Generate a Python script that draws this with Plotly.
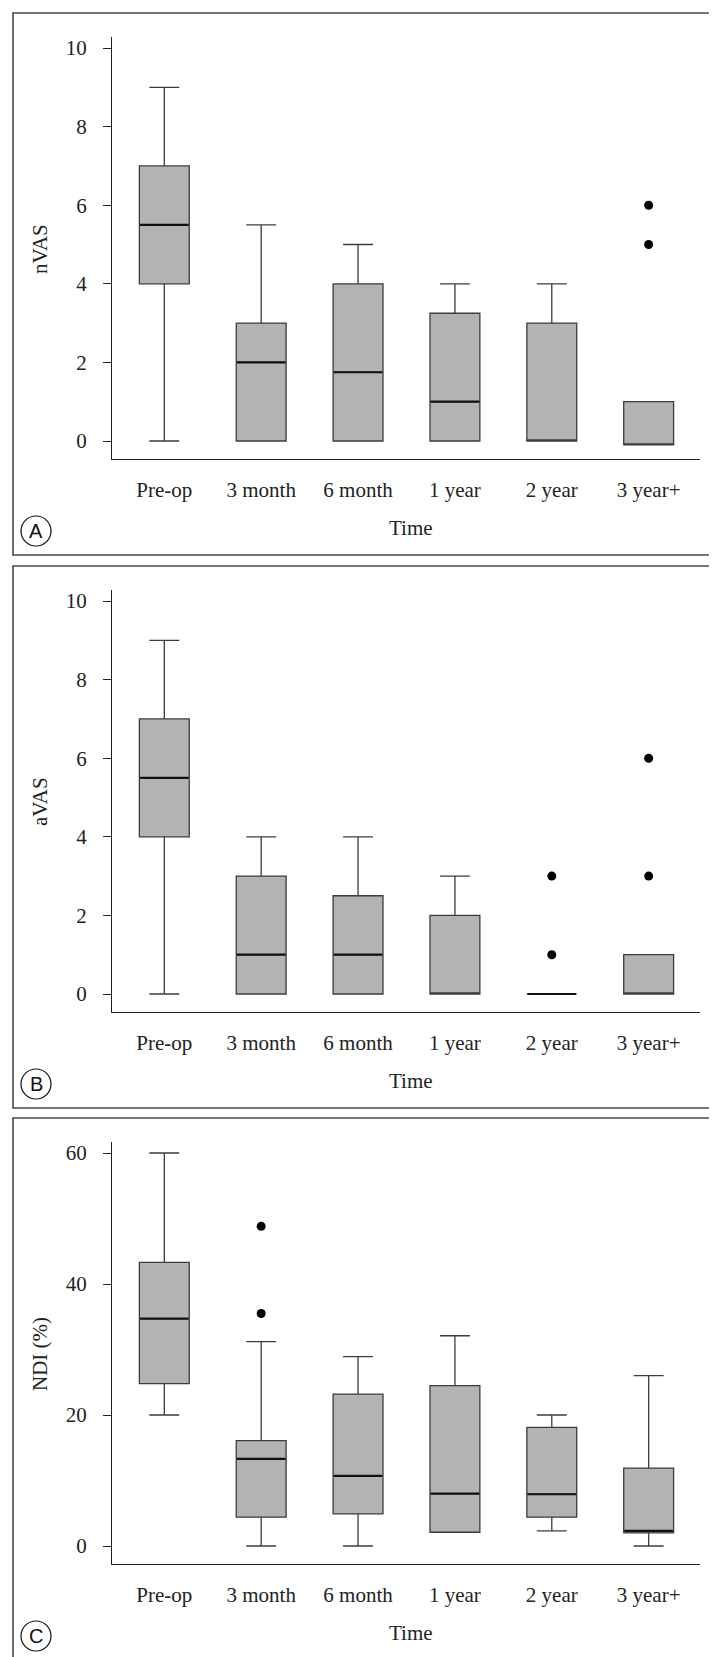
import plotly.graph_objects as go

categories = ["Pre-op", "3 month", "6 month", "1 year", "2 year", "3 year+"]

# Panel A: nVAS
nvas_q1 = [4, 0, 0, 0, 0, -0.1]
nvas_med = [5.5, 2, 1.75, 1, 0, -0.1]
nvas_q3 = [7, 3, 4, 3.25, 3, 1]
nvas_lo = [0, 0, 0, 0, 0, -0.1]
nvas_hi = [9, 5.5, 5, 4, 4, 1]
nvas_out_x = ["3 year+", "3 year+"]
nvas_out_y = [6, 5]

# Panel B: aVAS
avas_q1 = [4, 0, 0, 0, 0, 0]
avas_med = [5.5, 1, 1, 0, 0, 0]
avas_q3 = [7, 3, 2.5, 2, 0, 1]
avas_lo = [0, 0, 0, 0, 0, 0]
avas_hi = [9, 4, 4, 3, 0, 1]
avas_out_x = ["2 year", "2 year", "3 year+", "3 year+"]
avas_out_y = [3, 1, 6, 3]

# Panel C: NDI (%)
ndi_q1 = [24.8, 4.4, 4.9, 2.1, 4.4, 2.0]
ndi_med = [34.7, 13.3, 10.7, 8.0, 7.9, 2.3]
ndi_q3 = [43.3, 16.1, 23.2, 24.5, 18.1, 11.9]
ndi_lo = [20, 0, 0, 2.1, 2.3, 0]
ndi_hi = [60, 31.2, 28.9, 32.1, 20, 26]
ndi_out_x = ["3 month", "3 month"]
ndi_out_y = [48.8, 35.5]

W, H = 717, 1657
SERIF = "Liberation Serif, Times New Roman, serif"
SANS = "Liberation Sans, Arial, sans-serif"

panels = [
    dict(top=5, q1=nvas_q1, med=nvas_med, q3=nvas_q3, lo=nvas_lo, hi=nvas_hi,
         ox=nvas_out_x, oy=nvas_out_y, title="nVAS", letter="A",
         tickvals=[0, 2, 4, 6, 8, 10], topval=10),
    dict(top=558, q1=avas_q1, med=avas_med, q3=avas_q3, lo=avas_lo, hi=avas_hi,
         ox=avas_out_x, oy=avas_out_y, title="aVAS", letter="B",
         tickvals=[0, 2, 4, 6, 8, 10], topval=10),
    dict(top=1110, q1=ndi_q1, med=ndi_med, q3=ndi_q3, lo=ndi_lo, hi=ndi_hi,
         ox=ndi_out_x, oy=ndi_out_y, title="NDI (%)", letter="C",
         tickvals=[0, 20, 40, 60], topval=60),
]

fig = go.Figure()
shapes = []
annotations = []

def py(p):
    return 1 - p / H

x0px, x1px = 104, 692
for i, p in enumerate(panels):
    n = "" if i == 0 else str(i + 1)
    xa, ya = "x" + n, "y" + n
    t = p["top"]
    ppu = 393.0 / p["topval"]
    dom_top_px = t + 24
    dom_bot_px = t + 446
    y_bot = -(dom_bot_px - (t + 428)) / ppu
    y_top = p["topval"] + ((t + 35) - dom_top_px) / ppu

    fig.add_trace(go.Box(
        x=categories, q1=p["q1"], median=p["med"], q3=p["q3"],
        lowerfence=p["lo"], upperfence=p["hi"],
        fillcolor="#b3b3b3", line=dict(color="#3c3c3c", width=1.3),
        width=0.515, whiskerwidth=0.6, boxpoints=False,
        xaxis=xa, yaxis=ya, showlegend=False, hoverinfo="skip"))
    # thicker median line overlay (only where the median is distinct from Q1,
    # or the box is collapsed to a single value)
    mx, mm = [], []
    for c, a, m, b in zip(categories, p["q1"], p["med"], p["q3"]):
        if m != a or a == b:
            mx.append(c)
            mm.append(m)
    fig.add_trace(go.Box(
        x=mx, q1=mm, median=mm, q3=mm, lowerfence=mm, upperfence=mm,
        fillcolor="rgba(0,0,0,0)", line=dict(color="#111111", width=2.2),
        width=0.5, whiskerwidth=0, boxpoints=False,
        xaxis=xa, yaxis=ya, showlegend=False, hoverinfo="skip"))
    fig.add_trace(go.Scatter(
        x=p["ox"], y=p["oy"], mode="markers",
        marker=dict(color="black", size=9),
        xaxis=xa, yaxis=ya, showlegend=False, hoverinfo="skip"))

    xdom = [x0px / W, x1px / W]
    ydom = [py(dom_bot_px), py(dom_top_px)]
    fig.layout["xaxis" + n] = dict(
        domain=xdom, anchor=ya, type="category", range=[-0.54, 5.53],
        categoryorder="array", categoryarray=categories,
        showline=True, linecolor="#222", linewidth=1.3, ticks="",
        showgrid=False, zeroline=False, ticklabelstandoff=12,
        tickfont=dict(family=SERIF, size=21, color="#222"))
    fig.layout["yaxis" + n] = dict(
        domain=ydom, anchor=xa, range=[y_bot, y_top],
        tickvals=p["tickvals"], showline=True, linecolor="#222", linewidth=1.3,
        ticks="outside", ticklen=8, tickcolor="#222", tickwidth=1.2,
        showgrid=False, zeroline=False, ticklabelstandoff=12,
        tickfont=dict(family=SERIF, size=21, color="#222"))

    shapes.append(dict(type="rect", xref="paper", yref="paper",
                       x0=5 / W, x1=711 / W, y0=py(t + 542), y1=py(t),
                       line=dict(color="#4a4a4a", width=1.6)))
    cy = t + 518
    shapes.append(dict(type="circle", xref="paper", yref="paper",
                       x0=13 / W, x1=43 / W, y0=py(cy + 15), y1=py(cy - 15),
                       line=dict(color="#111", width=1.2)))
    annotations.append(dict(text=p["letter"], xref="paper", yref="paper",
                            x=28 / W, y=py(cy), xanchor="center", yanchor="middle",
                            showarrow=False, font=dict(family=SANS, size=20, color="#111")))
    annotations.append(dict(text="Time", xref="paper", yref="paper",
                            x=403 / W, y=py(t + 515), xanchor="center", yanchor="middle",
                            showarrow=False, font=dict(family=SERIF, size=21, color="#222")))
    annotations.append(dict(text=p["title"], xref="paper", yref="paper",
                            x=32 / W, y=py(t + 236), xanchor="center", yanchor="middle",
                            textangle=-90, showarrow=False,
                            font=dict(family=SERIF, size=21, color="#222")))

fig.update_layout(
    width=W, height=H, margin=dict(l=0, r=0, t=0, b=0),
    paper_bgcolor="white", plot_bgcolor="white",
    shapes=shapes, annotations=annotations, showlegend=False)

fig.write_html("out.html")
